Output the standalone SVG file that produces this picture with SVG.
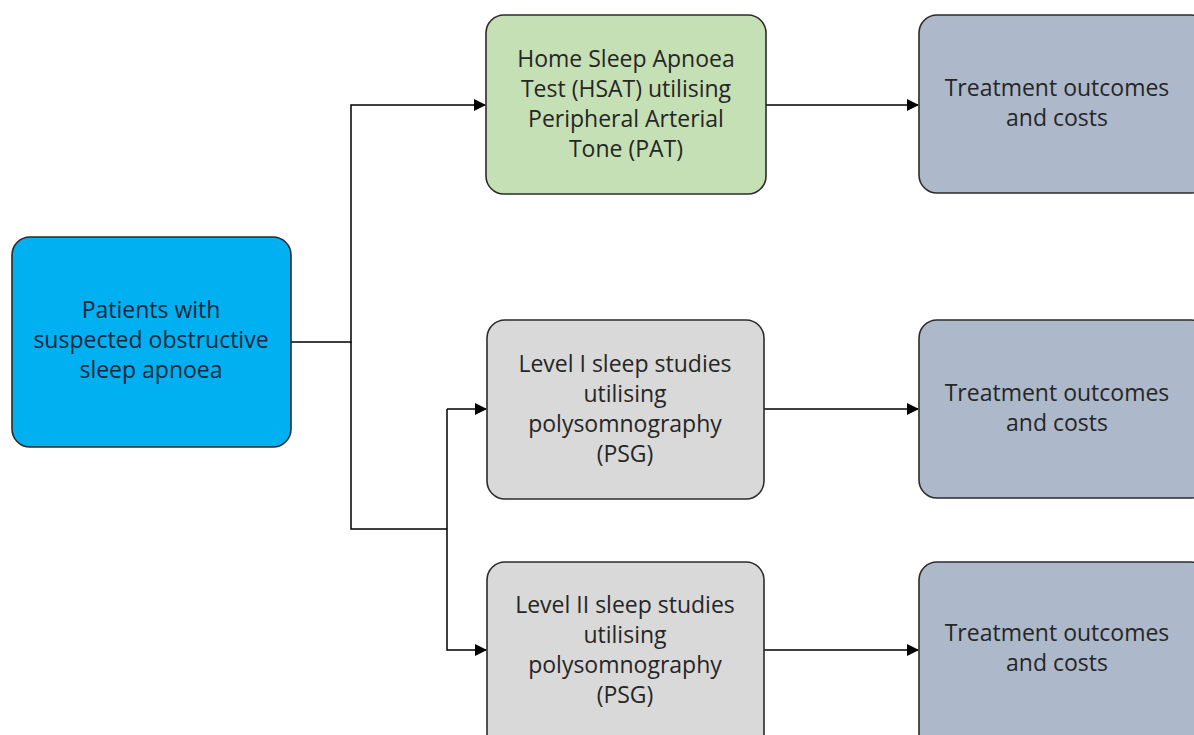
<svg xmlns="http://www.w3.org/2000/svg" width="1194" height="735" viewBox="0 0 1194 735">
<defs>
<style>
.box{stroke:#2b2b2b;stroke-width:1.6}
.t{font-family:"Open Sans","Noto Sans",sans-serif;font-size:23px;text-anchor:middle;fill:#262626}
.c{fill:none;stroke:#000;stroke-width:1.5}
</style>
<marker id="ah" markerWidth="12" markerHeight="12" refX="11" refY="6" orient="auto" markerUnits="userSpaceOnUse">
<path d="M0,0 L12,6 L0,12 Z" fill="#000"/>
</marker>
</defs>
<rect width="1194" height="735" fill="#fff"/>
<g id="connectors">
<path class="c" d="M291,342 H351 V105 H485" marker-end="url(#ah)"/>
<path class="c" d="M351,342 V529 H447"/>
<path class="c" d="M447,409 H486" marker-end="url(#ah)"/>
<path class="c" d="M447,409 V650 H486" marker-end="url(#ah)"/>
<path class="c" d="M766,105 H918" marker-end="url(#ah)"/>
<path class="c" d="M764,409 H918" marker-end="url(#ah)"/>
<path class="c" d="M764,650 H918" marker-end="url(#ah)"/>
</g>
<g id="patients">
<rect class="box" x="12" y="237" width="279" height="210" rx="18" fill="#00B0F0"/>
<text class="t" style="fill:#10283c"><tspan x="151" y="318">Patients with</tspan><tspan x="151" y="348">suspected obstructive</tspan><tspan x="151" y="378">sleep apnoea</tspan></text>
</g>
<g id="hsat">
<rect class="box" x="486" y="15" width="280" height="179" rx="18" fill="#C5E0B4"/>
<text class="t"><tspan x="626" y="67">Home Sleep Apnoea</tspan><tspan x="626" y="97">Test (HSAT) utilising</tspan><tspan x="626" y="127">Peripheral Arterial</tspan><tspan x="626" y="157">Tone (PAT)</tspan></text>
</g>
<g id="level1">
<rect class="box" x="487" y="320" width="277" height="179" rx="18" fill="#D9D9D9"/>
<text class="t"><tspan x="625" y="372">Level I sleep studies</tspan><tspan x="625" y="402">utilising</tspan><tspan x="625" y="432">polysomnography</tspan><tspan x="625" y="462">(PSG)</tspan></text>
</g>
<g id="level2">
<rect class="box" x="487" y="562" width="277" height="190" rx="18" fill="#D9D9D9"/>
<text class="t"><tspan x="625" y="613">Level II sleep studies</tspan><tspan x="625" y="643">utilising</tspan><tspan x="625" y="673">polysomnography</tspan><tspan x="625" y="703">(PSG)</tspan></text>
</g>
<g id="outcome1">
<rect class="box" x="919" y="15" width="290" height="178" rx="18" fill="#ADB9CA"/>
<text class="t"><tspan x="1057" y="96">Treatment outcomes</tspan><tspan x="1057" y="126">and costs</tspan></text>
</g>
<g id="outcome2">
<rect class="box" x="919" y="320" width="290" height="178" rx="18" fill="#ADB9CA"/>
<text class="t"><tspan x="1057" y="401">Treatment outcomes</tspan><tspan x="1057" y="431">and costs</tspan></text>
</g>
<g id="outcome3">
<rect class="box" x="919" y="562" width="290" height="190" rx="18" fill="#ADB9CA"/>
<text class="t"><tspan x="1057" y="641">Treatment outcomes</tspan><tspan x="1057" y="671">and costs</tspan></text>
</g>
</svg>
